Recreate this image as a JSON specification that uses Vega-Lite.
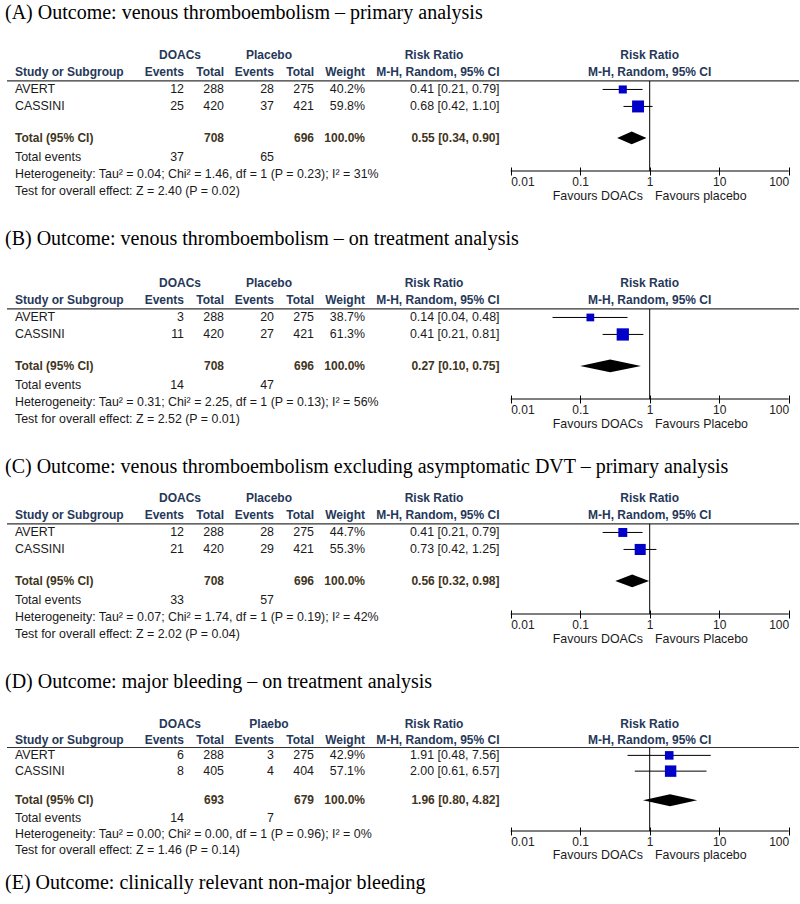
{
"$schema": "https://vega.github.io/schema/vega-lite/v6.json",
"padding": {"left": 5, "top": 3, "right": 3, "bottom": 4},
"spacing": 26,
"title": {"text": "(E) Outcome: clinically relevant non-major bleeding", "orient": "bottom", "anchor": "start", "frame": "group", "font": "Liberation Serif", "fontSize": 20, "fontWeight": "normal", "color": "#000", "offset": 12, "dx": -2},
"config": {"view": {"stroke": null}},
"datasets": {
"cells": [
{"panel":"A","row":0,"col":1,"text":"DOACs","kind":"head"},
{"panel":"A","row":0,"col":4,"text":"Placebo","kind":"head"},
{"panel":"A","row":0,"col":8,"text":"Risk Ratio","kind":"head"},
{"panel":"A","row":0,"col":11,"text":"Risk Ratio","kind":"head"},
{"panel":"A","row":1,"col":0,"text":"Study or Subgroup","kind":"head"},
{"panel":"A","row":1,"col":2,"text":"Events","kind":"head"},
{"panel":"A","row":1,"col":3,"text":"Total","kind":"head"},
{"panel":"A","row":1,"col":5,"text":"Events","kind":"head"},
{"panel":"A","row":1,"col":6,"text":"Total","kind":"head"},
{"panel":"A","row":1,"col":7,"text":"Weight","kind":"head"},
{"panel":"A","row":1,"col":9,"text":"M-H, Random, 95% CI","kind":"head"},
{"panel":"A","row":1,"col":11,"text":"M-H, Random, 95% CI","kind":"head"},
{"panel":"A","row":2,"col":0,"text":"AVERT","kind":"body"},
{"panel":"A","row":2,"col":2,"text":"12","kind":"body"},
{"panel":"A","row":2,"col":3,"text":"288","kind":"body"},
{"panel":"A","row":2,"col":5,"text":"28","kind":"body"},
{"panel":"A","row":2,"col":6,"text":"275","kind":"body"},
{"panel":"A","row":2,"col":7,"text":"40.2%","kind":"body"},
{"panel":"A","row":2,"col":9,"text":"0.41 [0.21, 0.79]","kind":"body"},
{"panel":"A","row":3,"col":0,"text":"CASSINI","kind":"body"},
{"panel":"A","row":3,"col":2,"text":"25","kind":"body"},
{"panel":"A","row":3,"col":3,"text":"420","kind":"body"},
{"panel":"A","row":3,"col":5,"text":"37","kind":"body"},
{"panel":"A","row":3,"col":6,"text":"421","kind":"body"},
{"panel":"A","row":3,"col":7,"text":"59.8%","kind":"body"},
{"panel":"A","row":3,"col":9,"text":"0.68 [0.42, 1.10]","kind":"body"},
{"panel":"A","row":4.85,"col":0,"text":"Total (95% CI)","kind":"total"},
{"panel":"A","row":4.85,"col":3,"text":"708","kind":"total"},
{"panel":"A","row":4.85,"col":6,"text":"696","kind":"total"},
{"panel":"A","row":4.85,"col":7,"text":"100.0%","kind":"total"},
{"panel":"A","row":4.85,"col":9,"text":"0.55 [0.34, 0.90]","kind":"total"},
{"panel":"A","row":6,"col":0,"text":"Total events","kind":"body"},
{"panel":"A","row":6,"col":2,"text":"37","kind":"body"},
{"panel":"A","row":6,"col":5,"text":"65","kind":"body"},
{"panel":"A","row":7,"col":0,"text":"Heterogeneity: Tau² = 0.04; Chi² = 1.46, df = 1 (P = 0.23); I² = 31%","kind":"body"},
{"panel":"A","row":8,"col":0,"text":"Test for overall effect: Z = 2.40 (P = 0.02)","kind":"body"},
{"panel":"A","row":8.3,"col":10,"text":"Favours DOACs","kind":"body"},
{"panel":"A","row":8.3,"col":12,"text":"Favours placebo","kind":"body"},

{"panel":"B","row":0,"col":1,"text":"DOACs","kind":"head"},
{"panel":"B","row":0,"col":4,"text":"Placebo","kind":"head"},
{"panel":"B","row":0,"col":8,"text":"Risk Ratio","kind":"head"},
{"panel":"B","row":0,"col":11,"text":"Risk Ratio","kind":"head"},
{"panel":"B","row":1,"col":0,"text":"Study or Subgroup","kind":"head"},
{"panel":"B","row":1,"col":2,"text":"Events","kind":"head"},
{"panel":"B","row":1,"col":3,"text":"Total","kind":"head"},
{"panel":"B","row":1,"col":5,"text":"Events","kind":"head"},
{"panel":"B","row":1,"col":6,"text":"Total","kind":"head"},
{"panel":"B","row":1,"col":7,"text":"Weight","kind":"head"},
{"panel":"B","row":1,"col":9,"text":"M-H, Random, 95% CI","kind":"head"},
{"panel":"B","row":1,"col":11,"text":"M-H, Random, 95% CI","kind":"head"},
{"panel":"B","row":2,"col":0,"text":"AVERT","kind":"body"},
{"panel":"B","row":2,"col":2,"text":"3","kind":"body"},
{"panel":"B","row":2,"col":3,"text":"288","kind":"body"},
{"panel":"B","row":2,"col":5,"text":"20","kind":"body"},
{"panel":"B","row":2,"col":6,"text":"275","kind":"body"},
{"panel":"B","row":2,"col":7,"text":"38.7%","kind":"body"},
{"panel":"B","row":2,"col":9,"text":"0.14 [0.04, 0.48]","kind":"body"},
{"panel":"B","row":3,"col":0,"text":"CASSINI","kind":"body"},
{"panel":"B","row":3,"col":2,"text":"11","kind":"body"},
{"panel":"B","row":3,"col":3,"text":"420","kind":"body"},
{"panel":"B","row":3,"col":5,"text":"27","kind":"body"},
{"panel":"B","row":3,"col":6,"text":"421","kind":"body"},
{"panel":"B","row":3,"col":7,"text":"61.3%","kind":"body"},
{"panel":"B","row":3,"col":9,"text":"0.41 [0.21, 0.81]","kind":"body"},
{"panel":"B","row":4.85,"col":0,"text":"Total (95% CI)","kind":"total"},
{"panel":"B","row":4.85,"col":3,"text":"708","kind":"total"},
{"panel":"B","row":4.85,"col":6,"text":"696","kind":"total"},
{"panel":"B","row":4.85,"col":7,"text":"100.0%","kind":"total"},
{"panel":"B","row":4.85,"col":9,"text":"0.27 [0.10, 0.75]","kind":"total"},
{"panel":"B","row":6,"col":0,"text":"Total events","kind":"body"},
{"panel":"B","row":6,"col":2,"text":"14","kind":"body"},
{"panel":"B","row":6,"col":5,"text":"47","kind":"body"},
{"panel":"B","row":7,"col":0,"text":"Heterogeneity: Tau² = 0.31; Chi² = 2.25, df = 1 (P = 0.13); I² = 56%","kind":"body"},
{"panel":"B","row":8,"col":0,"text":"Test for overall effect: Z = 2.52 (P = 0.01)","kind":"body"},
{"panel":"B","row":8.3,"col":10,"text":"Favours DOACs","kind":"body"},
{"panel":"B","row":8.3,"col":12,"text":"Favours Placebo","kind":"body"},

{"panel":"C","row":0,"col":1,"text":"DOACs","kind":"head"},
{"panel":"C","row":0,"col":4,"text":"Placebo","kind":"head"},
{"panel":"C","row":0,"col":8,"text":"Risk Ratio","kind":"head"},
{"panel":"C","row":0,"col":11,"text":"Risk Ratio","kind":"head"},
{"panel":"C","row":1,"col":0,"text":"Study or Subgroup","kind":"head"},
{"panel":"C","row":1,"col":2,"text":"Events","kind":"head"},
{"panel":"C","row":1,"col":3,"text":"Total","kind":"head"},
{"panel":"C","row":1,"col":5,"text":"Events","kind":"head"},
{"panel":"C","row":1,"col":6,"text":"Total","kind":"head"},
{"panel":"C","row":1,"col":7,"text":"Weight","kind":"head"},
{"panel":"C","row":1,"col":9,"text":"M-H, Random, 95% CI","kind":"head"},
{"panel":"C","row":1,"col":11,"text":"M-H, Random, 95% CI","kind":"head"},
{"panel":"C","row":2,"col":0,"text":"AVERT","kind":"body"},
{"panel":"C","row":2,"col":2,"text":"12","kind":"body"},
{"panel":"C","row":2,"col":3,"text":"288","kind":"body"},
{"panel":"C","row":2,"col":5,"text":"28","kind":"body"},
{"panel":"C","row":2,"col":6,"text":"275","kind":"body"},
{"panel":"C","row":2,"col":7,"text":"44.7%","kind":"body"},
{"panel":"C","row":2,"col":9,"text":"0.41 [0.21, 0.79]","kind":"body"},
{"panel":"C","row":3,"col":0,"text":"CASSINI","kind":"body"},
{"panel":"C","row":3,"col":2,"text":"21","kind":"body"},
{"panel":"C","row":3,"col":3,"text":"420","kind":"body"},
{"panel":"C","row":3,"col":5,"text":"29","kind":"body"},
{"panel":"C","row":3,"col":6,"text":"421","kind":"body"},
{"panel":"C","row":3,"col":7,"text":"55.3%","kind":"body"},
{"panel":"C","row":3,"col":9,"text":"0.73 [0.42, 1.25]","kind":"body"},
{"panel":"C","row":4.85,"col":0,"text":"Total (95% CI)","kind":"total"},
{"panel":"C","row":4.85,"col":3,"text":"708","kind":"total"},
{"panel":"C","row":4.85,"col":6,"text":"696","kind":"total"},
{"panel":"C","row":4.85,"col":7,"text":"100.0%","kind":"total"},
{"panel":"C","row":4.85,"col":9,"text":"0.56 [0.32, 0.98]","kind":"total"},
{"panel":"C","row":6,"col":0,"text":"Total events","kind":"body"},
{"panel":"C","row":6,"col":2,"text":"33","kind":"body"},
{"panel":"C","row":6,"col":5,"text":"57","kind":"body"},
{"panel":"C","row":7,"col":0,"text":"Heterogeneity: Tau² = 0.07; Chi² = 1.74, df = 1 (P = 0.19); I² = 42%","kind":"body"},
{"panel":"C","row":8,"col":0,"text":"Test for overall effect: Z = 2.02 (P = 0.04)","kind":"body"},
{"panel":"C","row":8.3,"col":10,"text":"Favours DOACs","kind":"body"},
{"panel":"C","row":8.3,"col":12,"text":"Favours Placebo","kind":"body"},

{"panel":"D","row":0,"col":1,"text":"DOACs","kind":"head"},
{"panel":"D","row":0,"col":4,"text":"Plaebo","kind":"head"},
{"panel":"D","row":0,"col":8,"text":"Risk Ratio","kind":"head"},
{"panel":"D","row":0,"col":11,"text":"Risk Ratio","kind":"head"},
{"panel":"D","row":1,"col":0,"text":"Study or Subgroup","kind":"head"},
{"panel":"D","row":1,"col":2,"text":"Events","kind":"head"},
{"panel":"D","row":1,"col":3,"text":"Total","kind":"head"},
{"panel":"D","row":1,"col":5,"text":"Events","kind":"head"},
{"panel":"D","row":1,"col":6,"text":"Total","kind":"head"},
{"panel":"D","row":1,"col":7,"text":"Weight","kind":"head"},
{"panel":"D","row":1,"col":9,"text":"M-H, Random, 95% CI","kind":"head"},
{"panel":"D","row":1,"col":11,"text":"M-H, Random, 95% CI","kind":"head"},
{"panel":"D","row":2,"col":0,"text":"AVERT","kind":"body"},
{"panel":"D","row":2,"col":2,"text":"6","kind":"body"},
{"panel":"D","row":2,"col":3,"text":"288","kind":"body"},
{"panel":"D","row":2,"col":5,"text":"3","kind":"body"},
{"panel":"D","row":2,"col":6,"text":"275","kind":"body"},
{"panel":"D","row":2,"col":7,"text":"42.9%","kind":"body"},
{"panel":"D","row":2,"col":9,"text":"1.91 [0.48, 7.56]","kind":"body"},
{"panel":"D","row":3,"col":0,"text":"CASSINI","kind":"body"},
{"panel":"D","row":3,"col":2,"text":"8","kind":"body"},
{"panel":"D","row":3,"col":3,"text":"405","kind":"body"},
{"panel":"D","row":3,"col":5,"text":"4","kind":"body"},
{"panel":"D","row":3,"col":6,"text":"404","kind":"body"},
{"panel":"D","row":3,"col":7,"text":"57.1%","kind":"body"},
{"panel":"D","row":3,"col":9,"text":"2.00 [0.61, 6.57]","kind":"body"},
{"panel":"D","row":4.85,"col":0,"text":"Total (95% CI)","kind":"total"},
{"panel":"D","row":4.85,"col":3,"text":"693","kind":"total"},
{"panel":"D","row":4.85,"col":6,"text":"679","kind":"total"},
{"panel":"D","row":4.85,"col":7,"text":"100.0%","kind":"total"},
{"panel":"D","row":4.85,"col":9,"text":"1.96 [0.80, 4.82]","kind":"total"},
{"panel":"D","row":6,"col":0,"text":"Total events","kind":"body"},
{"panel":"D","row":6,"col":2,"text":"14","kind":"body"},
{"panel":"D","row":6,"col":5,"text":"7","kind":"body"},
{"panel":"D","row":7,"col":0,"text":"Heterogeneity: Tau² = 0.00; Chi² = 0.00, df = 1 (P = 0.96); I² = 0%","kind":"body"},
{"panel":"D","row":8,"col":0,"text":"Test for overall effect: Z = 1.46 (P = 0.14)","kind":"body"},
{"panel":"D","row":8.3,"col":10,"text":"Favours DOACs","kind":"body"},
{"panel":"D","row":8.3,"col":12,"text":"Favours placebo","kind":"body"}
],
"forest": [
{"panel":"A","study":"AVERT","row":2,"weight":0.402,"rr":0.41,"lo":0.21,"hi":0.79},
{"panel":"A","study":"CASSINI","row":3,"weight":0.598,"rr":0.68,"lo":0.42,"hi":1.10},
{"panel":"B","study":"AVERT","row":2,"weight":0.387,"rr":0.14,"lo":0.04,"hi":0.48},
{"panel":"B","study":"CASSINI","row":3,"weight":0.613,"rr":0.41,"lo":0.21,"hi":0.81},
{"panel":"C","study":"AVERT","row":2,"weight":0.447,"rr":0.41,"lo":0.21,"hi":0.79},
{"panel":"C","study":"CASSINI","row":3,"weight":0.553,"rr":0.73,"lo":0.42,"hi":1.25},
{"panel":"D","study":"AVERT","row":2,"weight":0.429,"rr":1.91,"lo":0.48,"hi":7.56},
{"panel":"D","study":"CASSINI","row":3,"weight":0.571,"rr":2.00,"lo":0.61,"hi":6.57}
],
"diamond": [
{"panel":"A","rr":0.34,"top":4.85,"bottom":4.85},
{"panel":"A","rr":0.55,"top":4.47,"bottom":5.23},
{"panel":"A","rr":0.90,"top":4.85,"bottom":4.85},
{"panel":"B","rr":0.10,"top":4.85,"bottom":4.85},
{"panel":"B","rr":0.27,"top":4.47,"bottom":5.23},
{"panel":"B","rr":0.75,"top":4.85,"bottom":4.85},
{"panel":"C","rr":0.32,"top":4.85,"bottom":4.85},
{"panel":"C","rr":0.56,"top":4.47,"bottom":5.23},
{"panel":"C","rr":0.98,"top":4.85,"bottom":4.85},
{"panel":"D","rr":0.80,"top":4.85,"bottom":4.85},
{"panel":"D","rr":1.96,"top":4.47,"bottom":5.23},
{"panel":"D","rr":4.82,"top":4.85,"bottom":4.85}
]
},
"vconcat": [
{
"title": {"text": "(A) Outcome: venous thromboembolism – primary analysis", "anchor": "start", "frame": "group", "font": "Liberation Serif", "fontSize": 20, "fontWeight": "normal", "color": "#000", "offset": 24, "dx": -2},
"width": 792, "height": 124,
"resolve": {"scale": {"x": "independent"}, "axis": {"x": "independent"}},
"layer": [
{"data": {"name": "cells"}, "transform": [{"filter": "datum.panel == 'A'"}],
 "mark": {"type": "text", "font": "Liberation Sans", "fontSize": {"expr": "datum.kind == 'body' ? 12.4 : 12"}, "align": {"expr": "datum.col == 0 || datum.col == 12 ? 'left' : (datum.col == 1 || datum.col == 4 || datum.col == 8 || datum.col == 11 ? 'center' : 'right')"}, "fontWeight": {"expr": "datum.kind == 'body' ? 'normal' : 'bold'"}},
 "encoding": {
  "x": {"field": "col", "type": "quantitative", "scale": {"domain": [0,1,2,3,4,5,6,7,8,9,10,11,12], "range": [8,173,177,217,262,267,307,358,427,492.5,636,642.7,648], "nice": false, "zero": false}, "axis": null},
  "y": {"field": "row", "type": "quantitative", "scale": {"domain": [-0.5, 6.8], "reverse": true, "nice": false, "zero": false}, "axis": null},
  "text": {"field": "text"},
  "color": {"field": "kind", "type": "nominal", "scale": {"domain": ["head","body","total"], "range": ["#263859","#1a1a1a","#3f3522"]}, "legend": null}
 }},
{"data": {"values": [{}]}, "mark": {"type": "rule", "color": "#333", "strokeWidth": 1.2},
 "encoding": {"y": {"datum": 1.5, "type": "quantitative", "scale": {"domain": [-0.5, 6.8], "reverse": true, "nice": false, "zero": false}, "axis": null}}},
{"layer": [
 {"data": {"name": "forest"}, "transform": [{"filter": "datum.panel == 'A'"}], "mark": {"type": "rule", "color": "#000", "strokeWidth": 1},
  "encoding": {"x": {"field": "lo", "type": "quantitative", "scale": {"type": "log", "domain": [0.01, 100], "range": [503.7, 781.7], "nice": false}, "axis": {"values": [0.01,0.1,1,10,100], "format": "~g", "title": null, "domain": false, "tickSize": 8, "offset": -4, "tickColor": "#000", "labelColor": "#222", "labelFont": "Liberation Sans", "labelFontSize": 12, "labelPadding": 1, "labelFlush": true, "grid": false, "labelOverlap": false}},
   "x2": {"field": "hi"},
   "y": {"field": "row", "type": "quantitative", "scale": {"domain": [-0.5, 6.8], "reverse": true, "nice": false, "zero": false}, "axis": null}}},
 {"data": {"name": "forest"}, "transform": [{"filter": "datum.panel == 'A'"}], "mark": {"type": "point", "shape": "square", "filled": true, "color": "#0000c8", "opacity": 1},
  "encoding": {"x": {"field": "rr", "type": "quantitative", "scale": {"type": "log", "domain": [0.01, 100], "range": [503.7, 781.7], "nice": false}},
   "y": {"field": "row", "type": "quantitative", "scale": {"domain": [-0.5, 6.8], "reverse": true, "nice": false, "zero": false}, "axis": null},
   "size": {"field": "weight", "type": "quantitative", "scale": {"type": "pow", "exponent": 2, "domain": [0, 1], "range": [0, 400]}, "legend": null}}},
 {"data": {"name": "diamond"}, "transform": [{"filter": "datum.panel == 'A'"}], "mark": {"type": "area", "color": "#000", "opacity": 1},
  "encoding": {"x": {"field": "rr", "type": "quantitative", "scale": {"type": "log", "domain": [0.01, 100], "range": [503.7, 781.7], "nice": false}},
   "y": {"field": "top", "type": "quantitative", "scale": {"domain": [-0.5, 6.8], "reverse": true, "nice": false, "zero": false}, "axis": null},
   "y2": {"field": "bottom"}}},
 {"data": {"values": [{}]}, "mark": {"type": "rule", "color": "#000", "strokeWidth": 1},
  "encoding": {"x": {"datum": 1, "type": "quantitative", "scale": {"type": "log", "domain": [0.01, 100], "range": [503.7, 781.7], "nice": false}},
   "y": {"datum": 1.5, "type": "quantitative", "scale": {"domain": [-0.5, 6.8], "reverse": true, "nice": false, "zero": false}, "axis": null},
   "y2": {"datum": 6.8}}},
 {"data": {"values": [{}]}, "mark": {"type": "rule", "color": "#000", "strokeWidth": 1},
  "encoding": {"x": {"datum": 0.01, "type": "quantitative", "scale": {"type": "log", "domain": [0.01, 100], "range": [503.7, 781.7], "nice": false}},
   "x2": {"datum": 100},
   "y": {"datum": 6.8, "type": "quantitative", "scale": {"domain": [-0.5, 6.8], "reverse": true, "nice": false, "zero": false}, "axis": null}}}
]}
]
},
{
"title": {"text": "(B) Outcome: venous thromboembolism – on treatment analysis", "anchor": "start", "frame": "group", "font": "Liberation Serif", "fontSize": 20, "fontWeight": "normal", "color": "#000", "offset": 26, "dx": -2},
"width": 792, "height": 124,
"resolve": {"scale": {"x": "independent"}, "axis": {"x": "independent"}},
"layer": [
{"data": {"name": "cells"}, "transform": [{"filter": "datum.panel == 'B'"}],
 "mark": {"type": "text", "font": "Liberation Sans", "fontSize": {"expr": "datum.kind == 'body' ? 12.4 : 12"}, "align": {"expr": "datum.col == 0 || datum.col == 12 ? 'left' : (datum.col == 1 || datum.col == 4 || datum.col == 8 || datum.col == 11 ? 'center' : 'right')"}, "fontWeight": {"expr": "datum.kind == 'body' ? 'normal' : 'bold'"}},
 "encoding": {
  "x": {"field": "col", "type": "quantitative", "scale": {"domain": [0,1,2,3,4,5,6,7,8,9,10,11,12], "range": [8,173,177,217,262,267,307,358,427,492.5,636,642.7,648], "nice": false, "zero": false}, "axis": null},
  "y": {"field": "row", "type": "quantitative", "scale": {"domain": [-0.5, 6.8], "reverse": true, "nice": false, "zero": false}, "axis": null},
  "text": {"field": "text"},
  "color": {"field": "kind", "type": "nominal", "scale": {"domain": ["head","body","total"], "range": ["#263859","#1a1a1a","#3f3522"]}, "legend": null}
 }},
{"data": {"values": [{}]}, "mark": {"type": "rule", "color": "#333", "strokeWidth": 1.2},
 "encoding": {"y": {"datum": 1.5, "type": "quantitative", "scale": {"domain": [-0.5, 6.8], "reverse": true, "nice": false, "zero": false}, "axis": null}}},
{"layer": [
 {"data": {"name": "forest"}, "transform": [{"filter": "datum.panel == 'B'"}], "mark": {"type": "rule", "color": "#000", "strokeWidth": 1},
  "encoding": {"x": {"field": "lo", "type": "quantitative", "scale": {"type": "log", "domain": [0.01, 100], "range": [503.7, 781.7], "nice": false}, "axis": {"values": [0.01,0.1,1,10,100], "format": "~g", "title": null, "domain": false, "tickSize": 8, "offset": -4, "tickColor": "#000", "labelColor": "#222", "labelFont": "Liberation Sans", "labelFontSize": 12, "labelPadding": 1, "labelFlush": true, "grid": false, "labelOverlap": false}},
   "x2": {"field": "hi"},
   "y": {"field": "row", "type": "quantitative", "scale": {"domain": [-0.5, 6.8], "reverse": true, "nice": false, "zero": false}, "axis": null}}},
 {"data": {"name": "forest"}, "transform": [{"filter": "datum.panel == 'B'"}], "mark": {"type": "point", "shape": "square", "filled": true, "color": "#0000c8", "opacity": 1},
  "encoding": {"x": {"field": "rr", "type": "quantitative", "scale": {"type": "log", "domain": [0.01, 100], "range": [503.7, 781.7], "nice": false}},
   "y": {"field": "row", "type": "quantitative", "scale": {"domain": [-0.5, 6.8], "reverse": true, "nice": false, "zero": false}, "axis": null},
   "size": {"field": "weight", "type": "quantitative", "scale": {"type": "pow", "exponent": 2, "domain": [0, 1], "range": [0, 400]}, "legend": null}}},
 {"data": {"name": "diamond"}, "transform": [{"filter": "datum.panel == 'B'"}], "mark": {"type": "area", "color": "#000", "opacity": 1},
  "encoding": {"x": {"field": "rr", "type": "quantitative", "scale": {"type": "log", "domain": [0.01, 100], "range": [503.7, 781.7], "nice": false}},
   "y": {"field": "top", "type": "quantitative", "scale": {"domain": [-0.5, 6.8], "reverse": true, "nice": false, "zero": false}, "axis": null},
   "y2": {"field": "bottom"}}},
 {"data": {"values": [{}]}, "mark": {"type": "rule", "color": "#000", "strokeWidth": 1},
  "encoding": {"x": {"datum": 1, "type": "quantitative", "scale": {"type": "log", "domain": [0.01, 100], "range": [503.7, 781.7], "nice": false}},
   "y": {"datum": 1.5, "type": "quantitative", "scale": {"domain": [-0.5, 6.8], "reverse": true, "nice": false, "zero": false}, "axis": null},
   "y2": {"datum": 6.8}}},
 {"data": {"values": [{}]}, "mark": {"type": "rule", "color": "#000", "strokeWidth": 1},
  "encoding": {"x": {"datum": 0.01, "type": "quantitative", "scale": {"type": "log", "domain": [0.01, 100], "range": [503.7, 781.7], "nice": false}},
   "x2": {"datum": 100},
   "y": {"datum": 6.8, "type": "quantitative", "scale": {"domain": [-0.5, 6.8], "reverse": true, "nice": false, "zero": false}, "axis": null}}}
]}
]
},
{
"title": {"text": "(C) Outcome: venous thromboembolism excluding asymptomatic DVT – primary analysis", "anchor": "start", "frame": "group", "font": "Liberation Serif", "fontSize": 20, "fontWeight": "normal", "color": "#000", "offset": 13, "dx": -2},
"width": 792, "height": 124,
"resolve": {"scale": {"x": "independent"}, "axis": {"x": "independent"}},
"layer": [
{"data": {"name": "cells"}, "transform": [{"filter": "datum.panel == 'C'"}],
 "mark": {"type": "text", "font": "Liberation Sans", "fontSize": {"expr": "datum.kind == 'body' ? 12.4 : 12"}, "align": {"expr": "datum.col == 0 || datum.col == 12 ? 'left' : (datum.col == 1 || datum.col == 4 || datum.col == 8 || datum.col == 11 ? 'center' : 'right')"}, "fontWeight": {"expr": "datum.kind == 'body' ? 'normal' : 'bold'"}},
 "encoding": {
  "x": {"field": "col", "type": "quantitative", "scale": {"domain": [0,1,2,3,4,5,6,7,8,9,10,11,12], "range": [8,173,177,217,262,267,307,358,427,492.5,636,642.7,648], "nice": false, "zero": false}, "axis": null},
  "y": {"field": "row", "type": "quantitative", "scale": {"domain": [-0.5, 6.8], "reverse": true, "nice": false, "zero": false}, "axis": null},
  "text": {"field": "text"},
  "color": {"field": "kind", "type": "nominal", "scale": {"domain": ["head","body","total"], "range": ["#263859","#1a1a1a","#3f3522"]}, "legend": null}
 }},
{"data": {"values": [{}]}, "mark": {"type": "rule", "color": "#333", "strokeWidth": 1.2},
 "encoding": {"y": {"datum": 1.5, "type": "quantitative", "scale": {"domain": [-0.5, 6.8], "reverse": true, "nice": false, "zero": false}, "axis": null}}},
{"layer": [
 {"data": {"name": "forest"}, "transform": [{"filter": "datum.panel == 'C'"}], "mark": {"type": "rule", "color": "#000", "strokeWidth": 1},
  "encoding": {"x": {"field": "lo", "type": "quantitative", "scale": {"type": "log", "domain": [0.01, 100], "range": [503.7, 781.7], "nice": false}, "axis": {"values": [0.01,0.1,1,10,100], "format": "~g", "title": null, "domain": false, "tickSize": 8, "offset": -4, "tickColor": "#000", "labelColor": "#222", "labelFont": "Liberation Sans", "labelFontSize": 12, "labelPadding": 1, "labelFlush": true, "grid": false, "labelOverlap": false}},
   "x2": {"field": "hi"},
   "y": {"field": "row", "type": "quantitative", "scale": {"domain": [-0.5, 6.8], "reverse": true, "nice": false, "zero": false}, "axis": null}}},
 {"data": {"name": "forest"}, "transform": [{"filter": "datum.panel == 'C'"}], "mark": {"type": "point", "shape": "square", "filled": true, "color": "#0000c8", "opacity": 1},
  "encoding": {"x": {"field": "rr", "type": "quantitative", "scale": {"type": "log", "domain": [0.01, 100], "range": [503.7, 781.7], "nice": false}},
   "y": {"field": "row", "type": "quantitative", "scale": {"domain": [-0.5, 6.8], "reverse": true, "nice": false, "zero": false}, "axis": null},
   "size": {"field": "weight", "type": "quantitative", "scale": {"type": "pow", "exponent": 2, "domain": [0, 1], "range": [0, 400]}, "legend": null}}},
 {"data": {"name": "diamond"}, "transform": [{"filter": "datum.panel == 'C'"}], "mark": {"type": "area", "color": "#000", "opacity": 1},
  "encoding": {"x": {"field": "rr", "type": "quantitative", "scale": {"type": "log", "domain": [0.01, 100], "range": [503.7, 781.7], "nice": false}},
   "y": {"field": "top", "type": "quantitative", "scale": {"domain": [-0.5, 6.8], "reverse": true, "nice": false, "zero": false}, "axis": null},
   "y2": {"field": "bottom"}}},
 {"data": {"values": [{}]}, "mark": {"type": "rule", "color": "#000", "strokeWidth": 1},
  "encoding": {"x": {"datum": 1, "type": "quantitative", "scale": {"type": "log", "domain": [0.01, 100], "range": [503.7, 781.7], "nice": false}},
   "y": {"datum": 1.5, "type": "quantitative", "scale": {"domain": [-0.5, 6.8], "reverse": true, "nice": false, "zero": false}, "axis": null},
   "y2": {"datum": 6.8}}},
 {"data": {"values": [{}]}, "mark": {"type": "rule", "color": "#000", "strokeWidth": 1},
  "encoding": {"x": {"datum": 0.01, "type": "quantitative", "scale": {"type": "log", "domain": [0.01, 100], "range": [503.7, 781.7], "nice": false}},
   "x2": {"datum": 100},
   "y": {"datum": 6.8, "type": "quantitative", "scale": {"domain": [-0.5, 6.8], "reverse": true, "nice": false, "zero": false}, "axis": null}}}
]}
]
},
{
"title": {"text": "(D) Outcome: major bleeding – on treatment analysis", "anchor": "start", "frame": "group", "font": "Liberation Serif", "fontSize": 20, "fontWeight": "normal", "color": "#000", "offset": 24, "dx": -2},
"width": 792, "height": 115,
"resolve": {"scale": {"x": "independent"}, "axis": {"x": "independent"}},
"layer": [
{"data": {"name": "cells"}, "transform": [{"filter": "datum.panel == 'D'"}],
 "mark": {"type": "text", "font": "Liberation Sans", "fontSize": {"expr": "datum.kind == 'body' ? 12.4 : 12"}, "align": {"expr": "datum.col == 0 || datum.col == 12 ? 'left' : (datum.col == 1 || datum.col == 4 || datum.col == 8 || datum.col == 11 ? 'center' : 'right')"}, "fontWeight": {"expr": "datum.kind == 'body' ? 'normal' : 'bold'"}},
 "encoding": {
  "x": {"field": "col", "type": "quantitative", "scale": {"domain": [0,1,2,3,4,5,6,7,8,9,10,11,12], "range": [8,173,177,217,262,267,307,358,427,492.5,636,642.7,648], "nice": false, "zero": false}, "axis": null},
  "y": {"field": "row", "type": "quantitative", "scale": {"domain": [-0.5, 6.8], "reverse": true, "nice": false, "zero": false}, "axis": null},
  "text": {"field": "text"},
  "color": {"field": "kind", "type": "nominal", "scale": {"domain": ["head","body","total"], "range": ["#263859","#1a1a1a","#3f3522"]}, "legend": null}
 }},
{"data": {"values": [{}]}, "mark": {"type": "rule", "color": "#333", "strokeWidth": 1.2},
 "encoding": {"y": {"datum": 1.5, "type": "quantitative", "scale": {"domain": [-0.5, 6.8], "reverse": true, "nice": false, "zero": false}, "axis": null}}},
{"layer": [
 {"data": {"name": "forest"}, "transform": [{"filter": "datum.panel == 'D'"}], "mark": {"type": "rule", "color": "#000", "strokeWidth": 1},
  "encoding": {"x": {"field": "lo", "type": "quantitative", "scale": {"type": "log", "domain": [0.01, 100], "range": [503.7, 781.7], "nice": false}, "axis": {"values": [0.01,0.1,1,10,100], "format": "~g", "title": null, "domain": false, "tickSize": 8, "offset": -4, "tickColor": "#000", "labelColor": "#222", "labelFont": "Liberation Sans", "labelFontSize": 12, "labelPadding": 1, "labelFlush": true, "grid": false, "labelOverlap": false}},
   "x2": {"field": "hi"},
   "y": {"field": "row", "type": "quantitative", "scale": {"domain": [-0.5, 6.8], "reverse": true, "nice": false, "zero": false}, "axis": null}}},
 {"data": {"name": "forest"}, "transform": [{"filter": "datum.panel == 'D'"}], "mark": {"type": "point", "shape": "square", "filled": true, "color": "#0000c8", "opacity": 1},
  "encoding": {"x": {"field": "rr", "type": "quantitative", "scale": {"type": "log", "domain": [0.01, 100], "range": [503.7, 781.7], "nice": false}},
   "y": {"field": "row", "type": "quantitative", "scale": {"domain": [-0.5, 6.8], "reverse": true, "nice": false, "zero": false}, "axis": null},
   "size": {"field": "weight", "type": "quantitative", "scale": {"type": "pow", "exponent": 2, "domain": [0, 1], "range": [0, 400]}, "legend": null}}},
 {"data": {"name": "diamond"}, "transform": [{"filter": "datum.panel == 'D'"}], "mark": {"type": "area", "color": "#000", "opacity": 1},
  "encoding": {"x": {"field": "rr", "type": "quantitative", "scale": {"type": "log", "domain": [0.01, 100], "range": [503.7, 781.7], "nice": false}},
   "y": {"field": "top", "type": "quantitative", "scale": {"domain": [-0.5, 6.8], "reverse": true, "nice": false, "zero": false}, "axis": null},
   "y2": {"field": "bottom"}}},
 {"data": {"values": [{}]}, "mark": {"type": "rule", "color": "#000", "strokeWidth": 1},
  "encoding": {"x": {"datum": 1, "type": "quantitative", "scale": {"type": "log", "domain": [0.01, 100], "range": [503.7, 781.7], "nice": false}},
   "y": {"datum": 1.5, "type": "quantitative", "scale": {"domain": [-0.5, 6.8], "reverse": true, "nice": false, "zero": false}, "axis": null},
   "y2": {"datum": 6.8}}},
 {"data": {"values": [{}]}, "mark": {"type": "rule", "color": "#000", "strokeWidth": 1},
  "encoding": {"x": {"datum": 0.01, "type": "quantitative", "scale": {"type": "log", "domain": [0.01, 100], "range": [503.7, 781.7], "nice": false}},
   "x2": {"datum": 100},
   "y": {"datum": 6.8, "type": "quantitative", "scale": {"domain": [-0.5, 6.8], "reverse": true, "nice": false, "zero": false}, "axis": null}}}
]}
]
}
]
}
